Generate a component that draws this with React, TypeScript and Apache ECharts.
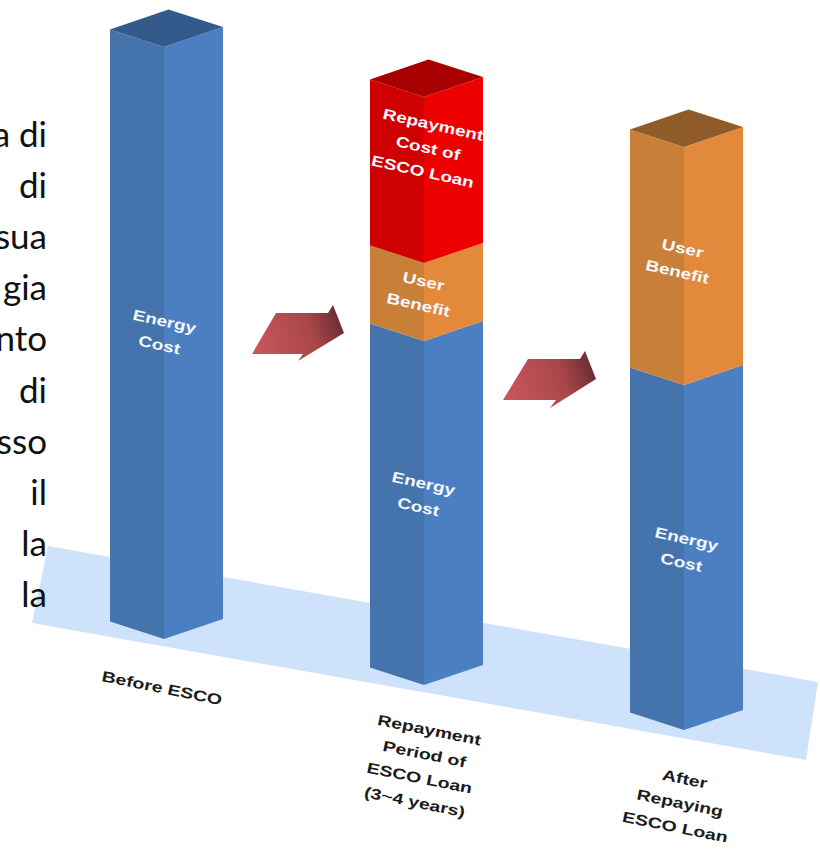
import React, { useEffect, useRef } from "react";
import * as echarts from "echarts";

const categories = ["Before ESCO", "Repayment\nPeriod of\nESCO Loan\n(3~4 years)", "After\nRepaying\nESCO Loan"];
const floorDrop = [0, 46, 91];
const energyCost = [592, 344, 345];
const userBenefit = [0, 78, 238];
const repaymentCost = [0, 166, 0];
const bodyLines = ["a di", "di", "sua", "gia", "nto", "di", "sso", "il", "la", "la"];

const segmentNames = ["Energy Cost", "User Benefit", "Repayment Cost"];
const segmentLabels = ["Energy\nCost", "User\nBenefit", "Repayment\nCost of\nESCO Loan"];
const segmentValues = [energyCost, userBenefit, repaymentCost];
const faceColors = [
  { left: "#4573ab", right: "#4c7ec2", top: "#345a8c" },
  { left: "#c88039", right: "#e3893b", top: "#8f5b28" },
  { left: "#cf0000", right: "#ec0000", top: "#a80000" },
];
// label nudges relative to the segment's front-edge midpoint (style only)
const labelNudge: Record<string, [number, number]> = {
  "0-0": [-4, -10], "0-1": [-5, -18], "0-2": [-2, -7],
  "1-1": [-5, -9], "1-2": [-6, -6],
  "2-1": [2, -32],
};
const catNudge: [number, number][] = [[-4, 688], [-4, 766], [-6, 803]];

function rowsFor(s: number) {
  const rows: number[][] = [];
  categories.forEach((_, i) => {
    if (!segmentValues[s][i]) return;
    let start = -floorDrop[i];
    for (let k = 0; k < s; k++) start += segmentValues[k][i];
    const end = start + segmentValues[s][i];
    let isTop = 1;
    for (let k = s + 1; k < segmentValues.length; k++) if (segmentValues[k][i]) isTop = 0;
    rows.push([i, start, end, isTop]);
  });
  return rows;
}

const labelFont = '"Liberation Sans", Arial, sans-serif';

function makeRenderItem(s: number) {
  return (_p: any, api: any) => {
    const i = api.value(0);
    const c = api.coord([i, api.value(1)]);
    const t = api.coord([i, api.value(2)]);
    const isTop = api.value(3);
    const cx = c[0];
    const mid = cx - 2;
    const lft = cx - 56;
    const rgt = cx + 57;
    const dl = 17.5;
    const dr = 20;
    const col = faceColors[s];
    const children: any[] = [
      { type: "polygon", shape: { points: [[lft, t[1] - dl], [mid, t[1]], [mid, c[1]], [lft, c[1] - dl]] }, style: { fill: col.left } },
      { type: "polygon", shape: { points: [[mid, t[1]], [rgt, t[1] - dr], [rgt, c[1] - dr], [mid, c[1]]] }, style: { fill: col.right } },
    ];
    if (isTop) {
      children.push({
        type: "polygon",
        shape: { points: [[lft, t[1] - dl], [cx + 2.5, t[1] - 37.5], [rgt, t[1] - dr], [mid, t[1]]] },
        style: { fill: col.top },
      });
    }
    const n = labelNudge[s + "-" + i] || [0, 0];
    children.push({
      type: "text",
      x: mid + 2 + n[0],
      y: (c[1] + t[1]) / 2 + n[1],
      rotation: -0.22,
      scaleX: 1.27,
      style: {
        text: segmentLabels[s],
        fill: "#f4f8ff",
        fontFamily: labelFont,
        fontWeight: "bold",
        fontSize: 15,
        lineHeight: 24,
        align: "center",
        verticalAlign: "middle",
      },
    });
    return { type: "group", children };
  };
}

function renderCategory(_p: any, api: any) {
  const i = api.value(0);
  const c = api.coord([i, 0]);
  return {
    type: "text",
    x: c[0] + catNudge[i][0],
    y: catNudge[i][1],
    rotation: -0.2,
    scaleX: 1.3,
    style: {
      text: categories[i],
      fill: "#1c1c1c",
      fontFamily: labelFont,
      fontWeight: "bold",
      fontSize: 15,
      lineHeight: 24.5,
      align: "center",
      verticalAlign: "middle",
    },
  };
}

const arrowFill = () =>
  new echarts.graphic.LinearGradient(0, 0.6, 1, 0.4, [
    { offset: 0, color: "#c8575b" },
    { offset: 0.65, color: "#a84649" },
    { offset: 1, color: "#692b33" },
  ]);

export default function App() {
  const ref = useRef<HTMLDivElement>(null);
  useEffect(() => {
    document.body.style.margin = "0";
    const chart = echarts.init(ref.current!, undefined, { renderer: "svg" });
    chart.setOption({
      animation: false,
      backgroundColor: "#ffffff",
      grid: { left: 36, top: 0, width: 780, height: 857 },
      xAxis: { type: "category", data: categories, show: false },
      yAxis: { type: "value", min: -218, max: 639, show: false },
      graphic: {
        elements: [
          {
            type: "polygon",
            z: 0,
            shape: { points: [[48, 546], [818, 682], [806, 760], [32, 623]] },
            style: { fill: "#cfe2fb" },
          },
          {
            type: "polygon",
            z: 0,
            shape: { points: [[252, 354], [276, 313], [328, 313], [333, 305], [344, 333], [298, 361], [303, 354]] },
            style: { fill: arrowFill() },
          },
          {
            type: "polygon",
            z: 0,
            shape: { points: [[503, 400], [528, 359], [580, 359], [585, 351], [596, 379], [550, 408], [556, 400]] },
            style: { fill: arrowFill() },
          },
          ...bodyLines.map((line, k) => ({
            type: "text",
            z: 1,
            x: 47,
            y: 115 + k * 51.2,
            style: {
              text: line,
              fill: "#111111",
              fontFamily: "Lato, sans-serif",
              fontSize: 35,
              align: "right",
            },
          })),
        ],
      },
      series: [
        ...segmentNames.map((name, s) => ({
          type: "custom",
          name,
          silent: true,
          clip: false,
          renderItem: makeRenderItem(s),
          encode: { x: 0, y: [1, 2] },
          data: rowsFor(s),
        })),
        {
          type: "custom",
          name: "Periods",
          silent: true,
          clip: false,
          renderItem: renderCategory,
          encode: { x: 0 },
          data: categories.map((_, i) => [i]),
        },
      ],
    });
    return () => chart.dispose();
  }, []);
  return <div ref={ref} style={{ position: "absolute", left: 0, top: 0, width: 820, height: 857 }} />;
}
